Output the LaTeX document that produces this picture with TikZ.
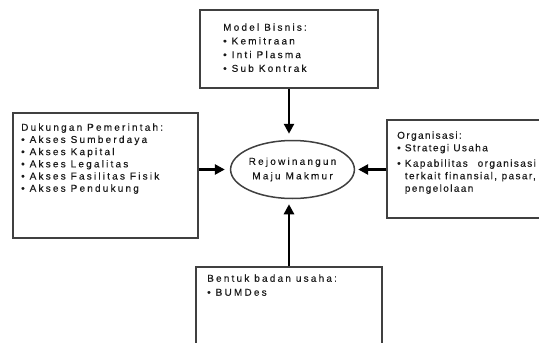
\documentclass[tikz,border=0pt]{standalone}
\usepackage{fontspec}
\setmainfont{Liberation Sans}
\newfontfamily\wideA{Liberation Sans}[LetterSpace=22,FakeBold=0.3]
\newfontfamily\wideB{Liberation Sans}[LetterSpace=14,FakeBold=0.3]
\usetikzlibrary{arrows.meta,shapes.geometric}
\begin{document}
\begin{tikzpicture}[x=1pt,y=-1pt,
  box/.style={draw=black!75, line width=1.5pt, rectangle, inner sep=0pt},
  txt/.style={anchor=north west, inner sep=0pt, align=left, text=black!90},
  arr/.style={line width=2.8pt, -{Triangle[length=10pt,width=10pt]}}]
\useasboundingbox (0,0) rectangle (539,343);
\clip (0,0) rectangle (539,343);
\node[box, minimum width=178pt, minimum height=78pt] (tb) at (289,49) {};
\node[box, minimum width=185pt, minimum height=125pt] (lb) at (105.5,175.5) {};
\node[box, minimum width=158pt, minimum height=98pt] (rb) at (466,169) {};
\node[box, minimum width=186pt, minimum height=86pt] (bb) at (289,310) {};
\node[draw=black!75, line width=1.5pt, ellipse, minimum width=108pt, minimum height=58pt, inner sep=0pt,
  align=center, text=black!90, font=\wideA\fontsize{10}{14.5}\selectfont] (el) at (292.5,169.5) {Rejowinangun\\Maju Makmur};
\node[txt, font=\wideA\fontsize{10}{13.7}\selectfont] (tt) at (223,23.3)
  {Model Bisnis:\\\textbullet\ Kemitraan\\\textbullet\ Inti Plasma\\\textbullet\ Sub Kontrak};
\node[txt, font=\wideA\fontsize{10}{12.2}\selectfont] (lt) at (21,123.3)
  {Dukungan Pemerintah:\\\textbullet\ Akses Sumberdaya\\\textbullet\ Akses Kapital\\\textbullet\ Akses Legalitas\\\textbullet\ Akses Fasilitas Fisik\\\textbullet\ Akses Pendukung};
\node[txt, font=\wideB\fontsize{10}{12.5}\selectfont] (rt) at (397,131.3)
  {Organisasi:\\\textbullet\ Strategi Usaha\\[3pt]\textbullet\ \makebox[131pt][s]{Kapabilitas organisasi}\\\phantom{\textbullet\ }\makebox[131pt][s]{terkait finansial, pasar,}\\\phantom{\textbullet\ }pengelolaan};
\node[txt, font=\wideA\fontsize{10}{14}\selectfont] (bt) at (207,274.3)
  {Bentuk badan usaha:\\\textbullet\ BUMDes};
\draw[arr, shorten >=6pt] (tb.south) -- (tb.south |- el.north);
\draw[arr, shorten >=5pt] (bb.north) -- (bb.north |- el.south);
\draw[arr, shorten >=5pt] (lb.east |- el) -- (el.west);
\draw[arr, shorten >=3pt] (rb.west |- el) -- (el.east);
\end{tikzpicture}
\end{document}
